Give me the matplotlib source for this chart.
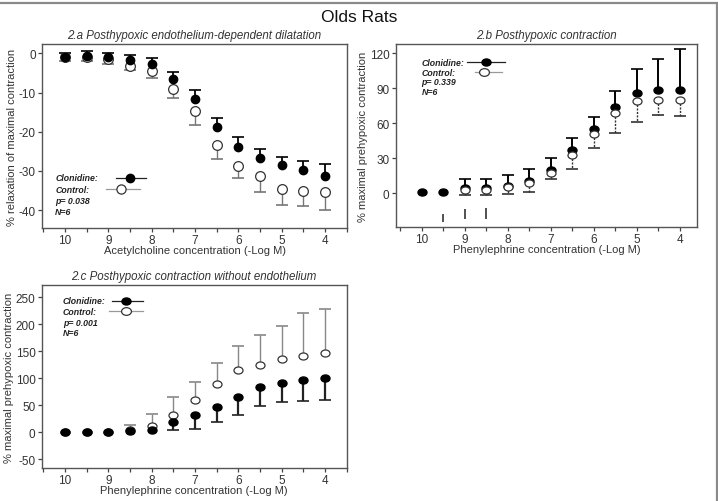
import matplotlib
matplotlib.use("Agg")
import matplotlib.pyplot as plt
from matplotlib.patches import Rectangle
from matplotlib.path import Path
from matplotlib.transforms import Affine2D
from matplotlib.ticker import MultipleLocator

plt.rcParams["font.family"] = ["Liberation Sans", "DejaVu Sans"]
plt.rcParams["axes.unicode_minus"] = False

# -Log M concentrations, shared by all three panels
log_conc = [10, 9.5, 9, 8.5, 8, 7.5, 7, 6.5, 6, 5.5, 5, 4.5, 4]

# 2.a  acetylcholine, % relaxation (clonidine err shown upward, control downward)
a_clon = [-1.0, -0.6, -1.0, -1.7, -2.6, -6.6, -11.7, -18.9, -23.8, -26.6, -28.5, -29.8, -31.2]
a_clon_err = [1.0, 1.3, 1.0, 1.3, 1.4, 1.9, 2.3, 2.3, 2.4, 2.3, 2.1, 2.4, 3.0]
a_ctrl = [-0.9, -0.8, -1.3, -3.2, -4.4, -9.1, -14.6, -23.3, -28.7, -31.2, -34.6, -35.1, -35.4]
a_ctrl_err = [1.1, 1.2, 1.4, 1.1, 1.8, 2.3, 3.6, 3.7, 3.1, 4.3, 4.2, 3.9, 4.5]
a_p = "p= 0.038"

# 2.b  phenylephrine, % maximal prehypoxic contraction
# (control not visible at the two lowest doses)
b_clon = [1, 1, 4, 4.5, 6.3, 10, 20, 37, 55, 74, 86, 89, 89]
b_clon_err = [0, 0, 8, 8, 9, 11, 10.5, 10.5, 10.5, 14, 21, 26, 35]
b_ctrl = [None, None, 3, 3, 5, 8.5, 17, 32.8, 51, 68.4, 79, 80, 80.4]
b_ctrl_err = [0, 0, 5, 5, 5.5, 7.5, 5, 12, 12.5, 16.7, 17.5, 13, 14.4]
b_p = "p= 0.339"
# stray vertical strokes under the zero line
b_stray_x = [9.5, 9, 8.5]
b_stray_lo = [-25, -22, -22]
b_stray_hi = [-18, -14, -13]

# 2.c  phenylephrine without endothelium (clonidine err downward, control upward)
c_clon = [0, 0, 0, 2, 5, 18.6, 31.7, 47.8, 65.8, 83.7, 91, 97.4, 99.9]
c_clon_err = [0, 0, 0, 0, 0, 13.6, 24.7, 27.8, 33.5, 34, 34, 39.7, 39.1]
c_ctrl = [0, 0, 0, 4, 11, 32, 59.5, 90, 114.8, 125.3, 136.5, 142, 147]
c_ctrl_err = [0, 0, 0, 9, 24, 33, 34.2, 38, 45.2, 54.7, 60.5, 80, 81]
c_p = "p= 0.001"

n_label = "N=6"

TEXT = "#333333"
ELLIPSE = Path.unit_circle().transformed(Affine2D().scale(1.0, 0.78))


def one_sided_err(ax, x, y, err, sign, color, lw, ls="-"):
    keep = [(xi, yi, e) for xi, yi, e in zip(x, y, err) if e > 0 and yi is not None]
    xs = [k[0] for k in keep]
    ys = [k[1] for k in keep]
    ends = [k[1] + sign * k[2] for k in keep]
    ax.vlines(xs, ys, ends, colors=color, linewidth=lw, linestyles=ls, zorder=2)
    ax.plot(xs, ends, ls="none", marker="_", ms=8, mew=1.2, color=color, zorder=2)


def points(y):
    return [float("nan") if v is None else v for v in y]


def style_axes(ax, xlim, ylim, ystep, xlabel, ylabel, title):
    ax.set_xlim(*xlim)
    ax.set_ylim(*ylim)
    ax.xaxis.set_major_locator(MultipleLocator(1))
    ax.xaxis.set_minor_locator(MultipleLocator(0.5))
    ax.yaxis.set_major_locator(MultipleLocator(ystep))
    ax.tick_params(which="both", direction="out", length=3, width=0.9,
                   colors="#444444", labelcolor=TEXT, labelsize=8.5, pad=1.5)
    ax.tick_params(axis="x", which="minor", length=3)
    for s in ax.spines.values():
        s.set_color("#555555")
        s.set_linewidth(1.0)
    ax.set_xlabel(xlabel, fontsize=8, color=TEXT, labelpad=-1)
    ax.set_ylabel(ylabel, fontsize=8, color=TEXT, labelpad=1)
    ax.set_title(title, fontsize=8.3, style="italic", color=TEXT, pad=4)


def legend_block(ax, x0, y0, dy, clon_line, ctrl_line, p_text, ms, marker):
    tx = ax.transAxes
    kw = dict(transform=tx, fontsize=6.3, style="italic", weight="bold",
              color="#222222", va="center", ha="left")
    ax.text(x0, y0, "Clonidine:", **kw)
    ax.text(x0, y0 - dy, "Control:", **kw)
    ax.text(x0, y0 - 2 * dy, p_text, **kw)
    ax.text(x0, y0 - 3 * dy, n_label, **kw)
    l0, l1, lm = clon_line
    ax.plot([l0, l1], [y0, y0], color="#222222", lw=0.9, transform=tx, clip_on=False)
    ax.plot([lm], [y0], marker=marker, ms=ms, color="black", transform=tx, clip_on=False)
    l0, l1, lm = ctrl_line
    ax.plot([l0, l1], [y0 - dy, y0 - dy], color="#999999", lw=0.9, transform=tx, clip_on=False)
    ax.plot([lm], [y0 - dy], marker=marker, ms=ms + 0.6, mfc="white", mec="#333333",
            mew=0.9, transform=tx, clip_on=False)


fig = plt.figure(figsize=(7.18, 5.02), dpi=100)
fig.patches.append(Rectangle((-0.01, -0.01), 1.008, 1.003, transform=fig.transFigure,
                             fill=False, edgecolor="#8a8a8a", linewidth=1.6))
fig.text(0.5, 0.966, "Olds Rats", ha="center", va="center", fontsize=12.5, color="#111111")

# ---- 2.a
ax = fig.add_axes([0.0585, 0.5438, 0.4248, 0.3665])
one_sided_err(ax, log_conc, a_ctrl, a_ctrl_err, -1, "#777777", 1.0)
one_sided_err(ax, log_conc, a_clon, a_clon_err, +1, "black", 1.3)
ax.plot(log_conc, a_ctrl, ls="none", marker="o", ms=7, mfc="white", mec="#333333", mew=0.9, zorder=3)
ax.plot(log_conc, a_clon, ls="none", marker="o", ms=6, color="black", zorder=4)
style_axes(ax, (10.53, 3.49), (-44.6, 2.4), 10,
           "Acetylcholine concentration (-Log M)", "% relaxation of maximal contraction",
           "2.a Posthypoxic endothelium-dependent dilatation")
legend_block(ax, 0.043, 0.272, 0.06, (0.243, 0.342, 0.289), (0.21, 0.322, 0.259), a_p, 6, "o")

# ---- 2.b
ax = fig.add_axes([0.5511, 0.5458, 0.4197, 0.3645])
one_sided_err(ax, log_conc, b_clon, b_clon_err, +1, "black", 1.4)
one_sided_err(ax, log_conc, b_ctrl, b_ctrl_err, -1, "#333333", 1.0, ls=(0, (1.5, 1)))
ax.vlines(b_stray_x, b_stray_lo, b_stray_hi, colors="#222222", linewidth=1.1)
ax.plot(log_conc, b_clon, ls="none", marker=ELLIPSE, ms=6.5, color="black", zorder=3)
ax.plot(log_conc, points(b_ctrl), ls="none", marker=ELLIPSE, ms=6.5, mfc="white",
        mec="#333333", mew=0.9, zorder=4)
style_axes(ax, (10.6, 3.6), (-29.2, 128.1), 30,
           "Phenylephrine concentration (-Log M)", "% maximal prehypoxic contraction",
           "2.b Posthypoxic contraction")
legend_block(ax, 0.086, 0.9, 0.053, (0.237, 0.363, 0.30), (0.263, 0.353, 0.293), b_p, 6.5, ELLIPSE)

# ---- 2.c
ax = fig.add_axes([0.0581, 0.0657, 0.4248, 0.3645])
one_sided_err(ax, log_conc, c_clon, c_clon_err, -1, "#222222", 1.6)
one_sided_err(ax, log_conc, c_ctrl, c_ctrl_err, +1, "#888888", 1.0)
ax.plot(log_conc, c_ctrl, ls="none", marker=ELLIPSE, ms=6.5, mfc="white", mec="#333333",
        mew=0.9, zorder=3)
ax.plot(log_conc, c_clon, ls="none", marker=ELLIPSE, ms=6.5, color="black", zorder=4)
style_axes(ax, (10.54, 3.5), (-66, 273), 50,
           "Phenylephrine concentration (-Log M)", "% maximal prehypoxic contraction",
           "2.c Posthypoxic contraction without endothelium")
legend_block(ax, 0.07, 0.914, 0.058, (0.23, 0.332, 0.276), (0.22, 0.332, 0.276), c_p, 6.5, ELLIPSE)

fig.savefig("out.png", dpi=100)
